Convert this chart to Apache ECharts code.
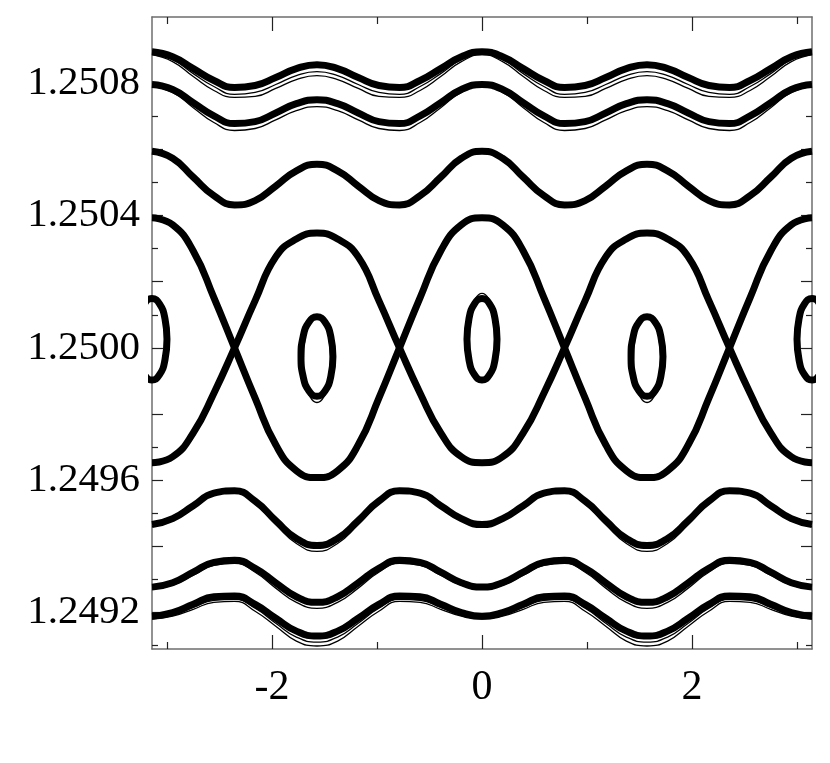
<!DOCTYPE html>
<html>
<head>
<meta charset="utf-8">
<script src="https://cdn.jsdelivr.net/npm/echarts@6/dist/echarts.min.js"></script>
<style>
  html, body { margin: 0; padding: 0; background: #fff; }
  #main { width: 830px; height: 763px; }
</style>
</head>
<body>
<div id="main"></div>
<script>
// phase angle samples, step pi/16
const phase = [-3.14159, -2.94524, -2.74889, -2.55254, -2.35619, -2.15984, -1.96350, -1.76715, -1.57080, -1.37445, -1.17810, -0.98175, -0.78540, -0.58905, -0.39270, -0.19635, 0, 0.19635, 0.39270, 0.58905, 0.78540, 0.98175, 1.17810, 1.37445, 1.57080, 1.76715, 1.96350, 2.15984, 2.35619, 2.55254, 2.74889, 2.94524, 3.14159];

// thick orbits, top to bottom
const orbitA1 = [1.250895, 1.250880, 1.250844, 1.250808, 1.250787, 1.250793, 1.250817, 1.250844, 1.250856, 1.250844, 1.250817, 1.250793, 1.250787, 1.250808, 1.250844, 1.250880, 1.250895, 1.250880, 1.250844, 1.250808, 1.250787, 1.250793, 1.250817, 1.250844, 1.250856, 1.250844, 1.250817, 1.250793, 1.250787, 1.250808, 1.250844, 1.250880, 1.250895];
const orbitA2 = [1.250796, 1.250781, 1.250741, 1.250701, 1.250678, 1.250684, 1.250710, 1.250738, 1.250750, 1.250738, 1.250710, 1.250684, 1.250678, 1.250701, 1.250741, 1.250781, 1.250796, 1.250781, 1.250741, 1.250701, 1.250678, 1.250684, 1.250710, 1.250738, 1.250750, 1.250738, 1.250710, 1.250684, 1.250678, 1.250701, 1.250741, 1.250781, 1.250796];
const orbitB = [1.250594, 1.250573, 1.250516, 1.250460, 1.250432, 1.250445, 1.250489, 1.250535, 1.250555, 1.250535, 1.250489, 1.250445, 1.250432, 1.250460, 1.250516, 1.250573, 1.250594, 1.250573, 1.250516, 1.250460, 1.250432, 1.250445, 1.250489, 1.250535, 1.250555, 1.250535, 1.250489, 1.250445, 1.250432, 1.250460, 1.250516, 1.250573, 1.250594];
const sepUpper = [1.250393, 1.250372, 1.250293, 1.250152, 1.250000, 1.249848, 1.249707, 1.249629, 1.249608, 1.249629, 1.249707, 1.249848, 1.250000, 1.250152, 1.250293, 1.250372, 1.250393, 1.250372, 1.250293, 1.250152, 1.250000, 1.249848, 1.249707, 1.249629, 1.249608, 1.249629, 1.249707, 1.249848, 1.250000, 1.250152, 1.250293, 1.250372, 1.250393];
const sepLower = [1.249653, 1.249671, 1.249743, 1.249863, 1.250000, 1.250143, 1.250275, 1.250329, 1.250347, 1.250329, 1.250275, 1.250143, 1.250000, 1.249863, 1.249743, 1.249671, 1.249653, 1.249671, 1.249743, 1.249863, 1.250000, 1.250143, 1.250275, 1.250329, 1.250347, 1.250329, 1.250275, 1.250143, 1.250000, 1.249863, 1.249743, 1.249671, 1.249653];
const orbitE = [1.249466, 1.249484, 1.249523, 1.249561, 1.249568, 1.249537, 1.249478, 1.249424, 1.249403, 1.249424, 1.249478, 1.249537, 1.249568, 1.249561, 1.249523, 1.249484, 1.249466, 1.249484, 1.249523, 1.249561, 1.249568, 1.249537, 1.249478, 1.249424, 1.249403, 1.249424, 1.249478, 1.249537, 1.249568, 1.249561, 1.249523, 1.249484, 1.249466];
const orbitF = [1.249277, 1.249290, 1.249322, 1.249352, 1.249358, 1.249334, 1.249290, 1.249248, 1.249231, 1.249248, 1.249290, 1.249334, 1.249358, 1.249352, 1.249322, 1.249290, 1.249277, 1.249290, 1.249322, 1.249352, 1.249358, 1.249334, 1.249290, 1.249248, 1.249231, 1.249248, 1.249290, 1.249334, 1.249358, 1.249352, 1.249322, 1.249290, 1.249277];
const orbitG = [1.249189, 1.249200, 1.249225, 1.249248, 1.249250, 1.249225, 1.249183, 1.249144, 1.249129, 1.249144, 1.249183, 1.249225, 1.249250, 1.249248, 1.249225, 1.249200, 1.249189, 1.249200, 1.249225, 1.249248, 1.249250, 1.249225, 1.249183, 1.249144, 1.249129, 1.249144, 1.249183, 1.249225, 1.249250, 1.249248, 1.249225, 1.249200, 1.249189];

// thin neighbouring orbits
const thinA1a = [1.250889, 1.250871, 1.250829, 1.250790, 1.250766, 1.250772, 1.250796, 1.250823, 1.250835, 1.250823, 1.250796, 1.250772, 1.250766, 1.250790, 1.250829, 1.250871, 1.250889, 1.250871, 1.250829, 1.250790, 1.250766, 1.250772, 1.250796, 1.250823, 1.250835, 1.250823, 1.250796, 1.250772, 1.250766, 1.250790, 1.250829, 1.250871, 1.250889];
const thinA1b = [1.250886, 1.250865, 1.250820, 1.250778, 1.250757, 1.250760, 1.250784, 1.250811, 1.250823, 1.250811, 1.250784, 1.250760, 1.250757, 1.250778, 1.250820, 1.250865, 1.250886, 1.250865, 1.250820, 1.250778, 1.250757, 1.250760, 1.250784, 1.250811, 1.250823, 1.250811, 1.250784, 1.250760, 1.250757, 1.250778, 1.250820, 1.250865, 1.250886];
const thinA2 = [1.250790, 1.250772, 1.250726, 1.250681, 1.250657, 1.250663, 1.250689, 1.250717, 1.250729, 1.250717, 1.250689, 1.250663, 1.250657, 1.250681, 1.250726, 1.250772, 1.250790, 1.250772, 1.250726, 1.250681, 1.250657, 1.250663, 1.250689, 1.250717, 1.250729, 1.250717, 1.250689, 1.250663, 1.250657, 1.250681, 1.250726, 1.250772, 1.250790];
const thinE = [1.249460, 1.249478, 1.249517, 1.249555, 1.249562, 1.249529, 1.249466, 1.249409, 1.249385, 1.249409, 1.249466, 1.249529, 1.249562, 1.249555, 1.249517, 1.249478, 1.249460, 1.249478, 1.249517, 1.249555, 1.249562, 1.249529, 1.249466, 1.249409, 1.249385, 1.249409, 1.249466, 1.249529, 1.249562, 1.249555, 1.249517, 1.249478, 1.249460];
const thinF = [1.249271, 1.249283, 1.249313, 1.249343, 1.249349, 1.249322, 1.249274, 1.249231, 1.249213, 1.249231, 1.249274, 1.249322, 1.249349, 1.249343, 1.249313, 1.249283, 1.249271, 1.249283, 1.249313, 1.249343, 1.249349, 1.249322, 1.249274, 1.249231, 1.249213, 1.249231, 1.249274, 1.249322, 1.249349, 1.249343, 1.249313, 1.249283, 1.249271];
const thinGa = [1.249183, 1.249192, 1.249216, 1.249237, 1.249240, 1.249213, 1.249168, 1.249126, 1.249111, 1.249126, 1.249168, 1.249213, 1.249240, 1.249237, 1.249216, 1.249192, 1.249183, 1.249192, 1.249216, 1.249237, 1.249240, 1.249213, 1.249168, 1.249126, 1.249111, 1.249126, 1.249168, 1.249213, 1.249240, 1.249237, 1.249216, 1.249192, 1.249183];
const thinGb = [1.249180, 1.249189, 1.249210, 1.249231, 1.249234, 1.249204, 1.249159, 1.249114, 1.249099, 1.249114, 1.249159, 1.249204, 1.249234, 1.249231, 1.249210, 1.249189, 1.249180, 1.249189, 1.249210, 1.249231, 1.249234, 1.249204, 1.249159, 1.249114, 1.249099, 1.249114, 1.249159, 1.249204, 1.249234, 1.249231, 1.249210, 1.249189, 1.249180];

// islands (closed loops)
const islandY0 = [1.250026, 1.250088, 1.250133, 1.250149, 1.250133, 1.250088, 1.250026, 1.249964, 1.249919, 1.249903, 1.249919, 1.249964, 1.250026];
const islandYh = [1.249974, 1.250034, 1.250078, 1.250094, 1.250078, 1.250034, 1.249974, 1.249914, 1.249870, 1.249854, 1.249870, 1.249914, 1.249974];
const islandXc = [0.143, 0.124, 0.072, 0, -0.072, -0.124, -0.143, -0.124, -0.072, 0, 0.072, 0.124, 0.143];
const islandXl = [-2.999, -3.018, -3.070, -3.142, -3.214, -3.266, -3.285, -3.266, -3.214, -3.142, -3.070, -3.018, -2.999];
const islandXr = [3.285, 3.266, 3.214, 3.142, 3.070, 3.018, 2.999, 3.018, 3.070, 3.142, 3.214, 3.266, 3.285];
const islandXm = [-1.419, -1.439, -1.495, -1.571, -1.647, -1.703, -1.723, -1.703, -1.647, -1.571, -1.495, -1.439, -1.419];
const islandXp = [1.723, 1.703, 1.647, 1.571, 1.495, 1.439, 1.419, 1.439, 1.495, 1.571, 1.647, 1.703, 1.723];
// thin companions of the islands
const haloY0 = [1.250035, 1.250100, 1.250148, 1.250165, 1.250148, 1.250100, 1.250035, 1.249970, 1.249922, 1.249905, 1.249922, 1.249970, 1.250035];
const haloYh = [1.249965, 1.250030, 1.250078, 1.250095, 1.250078, 1.250030, 1.249965, 1.249900, 1.249852, 1.249835, 1.249852, 1.249900, 1.249965];
const haloXc = [0.125, 0.108, 0.063, 0, -0.063, -0.108, -0.125, -0.108, -0.063, 0, 0.063, 0.108, 0.125];
const haloXm = [-1.441, -1.458, -1.506, -1.571, -1.636, -1.684, -1.701, -1.684, -1.636, -1.571, -1.506, -1.458, -1.441];
const haloXp = [1.701, 1.684, 1.636, 1.571, 1.506, 1.458, 1.441, 1.458, 1.506, 1.571, 1.636, 1.684, 1.701];

// ticks and labels
const xMajor = [-2, 0, 2];
const xMinor = [-3, -1, 1, 3];
const yMajor = [1.2492, 1.2494, 1.2496, 1.2498, 1.2500, 1.2502, 1.2504, 1.2506, 1.2508];
const yMinor = [1.2491, 1.2493, 1.2495, 1.2497, 1.2499, 1.2501, 1.2503, 1.2505, 1.2507, 1.2509];
const yLabels = [1.2492, 1.2496, 1.2500, 1.2504, 1.2508];

const frameColor = '#6e6e6e';
const font = '"Liberation Serif", "DejaVu Serif", serif';

function pairs(xs, ys) {
  return xs.map((x, i) => [x, ys[i]]);
}

function xAxisDef(pos, ticks, len, labels, line) {
  return {
    type: 'value', position: pos, min: -3.14159, max: 3.14159,
    axisLine: {show: line, onZero: false, lineStyle: {color: frameColor, width: 1.5}},
    axisTick: {show: true, inside: true, length: len, customValues: ticks, lineStyle: {color: '#222', width: 1.2}},
    axisLabel: labels ? {show: true, customValues: labels, margin: 18, color: '#000', fontSize: 42, fontFamily: font,
      formatter: v => String(Math.round(v))} : {show: false},
    splitLine: {show: false}
  };
}

function yAxisDef(pos, ticks, len, labels, line) {
  return {
    type: 'value', position: pos, min: 1.24909, max: 1.2510,
    axisLine: {show: line, onZero: false, lineStyle: {color: frameColor, width: 1.5}},
    axisTick: {show: true, inside: true, length: len, customValues: ticks, lineStyle: {color: '#222', width: 1.2}},
    axisLabel: labels ? {show: true, customValues: labels, margin: 12, color: '#000', fontSize: 41, fontFamily: font,
      formatter: v => v.toFixed(4)} : {show: false},
    splitLine: {show: false}
  };
}

function thick(xs, ys) {
  return {type: 'line', data: pairs(xs, ys), smooth: 0.5, showSymbol: false, silent: true,
    lineStyle: {color: '#000', width: 7}};
}
function thin(xs, ys) {
  return {type: 'line', data: pairs(xs, ys), smooth: 0.5, showSymbol: false, silent: true,
    lineStyle: {color: '#000', width: 1.3}};
}

let chart = echarts.init(document.getElementById('main'), null, {renderer: 'canvas'});
chart.setOption({
  animation: false,
  backgroundColor: '#fff',
  grid: {left: 152, right: 18, top: 17, bottom: 114, containLabel: false},
  xAxis: [
    xAxisDef('bottom', xMajor, 14, xMajor, true),
    xAxisDef('bottom', xMinor, 7, null, false),
    xAxisDef('top', xMajor, 14, null, true),
    xAxisDef('top', xMinor, 7, null, false)
  ],
  yAxis: [
    yAxisDef('left', yMajor, 11, yLabels, true),
    yAxisDef('left', yMinor, 6, null, false),
    yAxisDef('right', yMajor, 11, null, true),
    yAxisDef('right', yMinor, 6, null, false)
  ],
  series: [
    thick(phase, orbitA1), thick(phase, orbitA2), thick(phase, orbitB),
    thick(phase, sepUpper), thick(phase, sepLower),
    thick(phase, orbitE), thick(phase, orbitF), thick(phase, orbitG),
    thin(phase, thinA1a), thin(phase, thinA1b), thin(phase, thinA2), thin(phase, thinE),
    thin(phase, thinF), thin(phase, thinGa), thin(phase, thinGb),
    thick(islandXc, islandY0), thick(islandXl, islandY0), thick(islandXr, islandY0),
    thick(islandXm, islandYh), thick(islandXp, islandYh),
    thin(haloXc, haloY0), thin(haloXm, haloYh), thin(haloXp, haloYh)
  ]
});
</script>
</body>
</html>
